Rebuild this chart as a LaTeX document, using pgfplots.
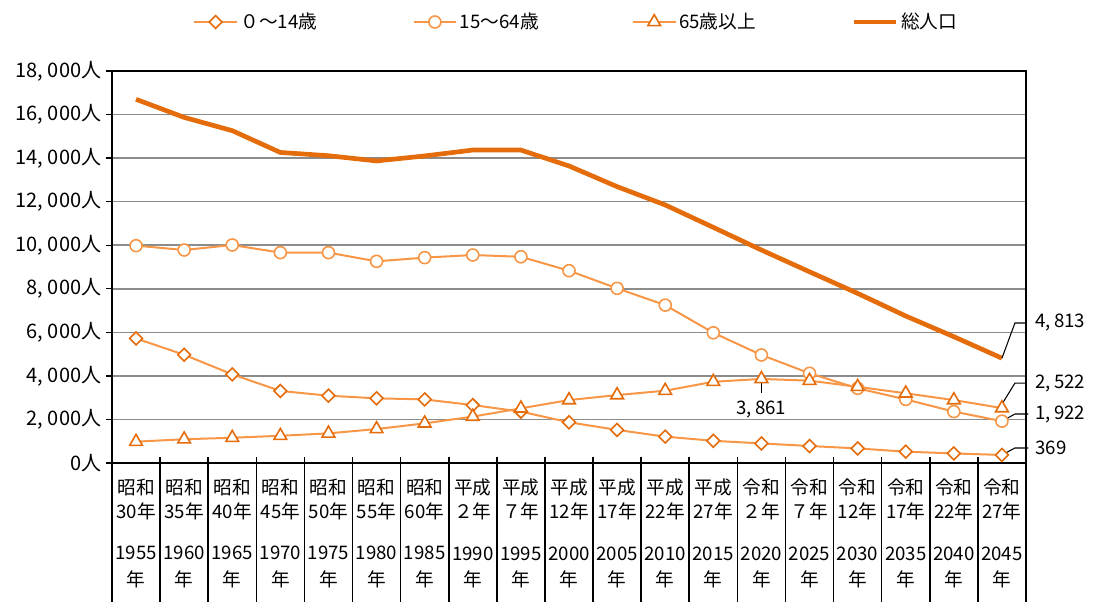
\documentclass[border=0pt]{standalone}
\usepackage{pgfplots}
\pgfplotsset{compat=1.18}
\usepackage{fontspec}
\setmainfont{Noto Sans CJK JP}

\definecolor{lo}{HTML}{F79646}
\definecolor{do}{HTML}{E46C0A}
\definecolor{gr}{HTML}{8C8C8C}

\begin{document}
\begin{tikzpicture}[font=\fontsize{14pt}{18pt}\selectfont]
\begin{axis}[
    at={(0,0)}, anchor=south west,
    scale only axis, width=685.5pt, height=294pt,
    xmin=-0.5, xmax=18.5, ymin=0, ymax=18000,
    axis line style={black, line width=1.2pt},
    scaled y ticks=false,
    ytick={0,2000,...,18000},
    yticklabels={0人,{2,\ 000人},{4,\ 000人},{6,\ 000人},{8,\ 000人},{10,\ 000人},{12,\ 000人},{14,\ 000人},{16,\ 000人},{18,\ 000人}},
    yticklabel style={font=\fontsize{15pt}{18pt}\selectfont},
    ytick pos=left, tick align=outside, major tick length=4.5pt,
    ytick style={black, line width=1pt},
    ymajorgrids, grid style={gr, line width=1.2pt},
    xtick={0,...,18}, xtick style={draw=none},
    xticklabels={
      {昭和\\30年\\[13pt]1955\\[2pt]年},{昭和\\35年\\[13pt]1960\\[2pt]年},{昭和\\40年\\[13pt]1965\\[2pt]年},
      {昭和\\45年\\[13pt]1970\\[2pt]年},{昭和\\50年\\[13pt]1975\\[2pt]年},{昭和\\55年\\[13pt]1980\\[2pt]年},
      {昭和\\60年\\[13pt]1985\\[2pt]年},{平成\\２年\\[13pt]1990\\[2pt]年},{平成\\７年\\[13pt]1995\\[2pt]年},
      {平成\\12年\\[13pt]2000\\[2pt]年},{平成\\17年\\[13pt]2005\\[2pt]年},{平成\\22年\\[13pt]2010\\[2pt]年},
      {平成\\27年\\[13pt]2015\\[2pt]年},{令和\\２年\\[13pt]2020\\[2pt]年},{令和\\７年\\[13pt]2025\\[2pt]年},
      {令和\\12年\\[13pt]2030\\[2pt]年},{令和\\17年\\[13pt]2035\\[2pt]年},{令和\\22年\\[13pt]2040\\[2pt]年},
      {令和\\27年\\[13pt]2045\\[2pt]年}},
    xticklabel style={align=center, yshift=-4pt},
    clip=false,
    legend columns=4,
    legend cell align=left,
    legend style={draw=none, fill=none, at={(0.0886,1.125)}, anchor=west, inner sep=0pt,
      /tikz/every even column/.append style={column sep=0pt}},
    legend image code/.code={\draw[mark repeat=2,mark phase=2,#1] plot coordinates {(0pt,0pt) (16pt,0pt) (32pt,0pt)};},
]
% 0-14
\addplot[lo, line width=1.5pt, mark=square*, mark size=3.4pt,
  mark options={rotate=45, fill=white, draw=do, line width=1.2pt}] coordinates {
  (0,5720) (1,4970) (2,4070) (3,3310) (4,3090) (5,2970) (6,2920) (7,2660) (8,2360) (9,1870)
  (10,1520) (11,1210) (12,1020) (13,900) (14,780) (15,670) (16,520) (17,440) (18,369)
};
\addlegendentry{\makebox[127pt][l]{０～14歳}}
% 15-64
\addplot[lo, line width=1.5pt, mark=*, mark size=4.5pt,
  mark options={fill=white, draw=lo, line width=1.2pt}] coordinates {
  (0,9980) (1,9780) (2,10010) (3,9660) (4,9660) (5,9260) (6,9430) (7,9550) (8,9470) (9,8830)
  (10,8020) (11,7250) (12,5980) (13,4960) (14,4120) (15,3430) (16,2920) (17,2360) (18,1922)
};
\addlegendentry{\makebox[127pt][l]{15～64歳}}
% 65+
\addplot[lo, line width=1.5pt, mark=triangle*, mark size=5.5pt,
  mark options={fill=white, draw=do, line width=1.2pt}] coordinates {
  (0,980) (1,1090) (2,1160) (3,1250) (4,1360) (5,1560) (6,1820) (7,2130) (8,2510) (9,2890)
  (10,3120) (11,3320) (12,3730) (13,3861) (14,3780) (15,3500) (16,3200) (17,2890) (18,2522)
};
\addlegendentry{\makebox[127pt][l]{65歳以上}}
% total
\addplot[do, line width=3.5pt, no markers] coordinates {
  (0,16700) (1,15870) (2,15260) (3,14260) (4,14110) (5,13870) (6,14100) (7,14370) (8,14370) (9,13640)
  (10,12690) (11,11850) (12,10820) (13,9780) (14,8780) (15,7790) (16,6750) (17,5800) (18,4813)
};
\addlegendentry{総人口}

% category separators
\pgfplotsinvokeforeach{-0.5,0.5,...,18.5}{
  \draw[black, line width=1.2pt] ([yshift=4.5pt]axis cs:#1,0) -- ([yshift=-110pt]axis cs:#1,0);
}

% data labels
\draw[black, line width=0.8pt] (axis cs:18,4813) -- (axis cs:18.27,6430) -- (axis cs:18.5,6430);
\node[anchor=west] at (axis cs:18.6,6430) {4,\,813};
\draw[black, line width=0.8pt] (axis cs:18,2700) -- (axis cs:18.27,3670) -- (axis cs:18.5,3670);
\node[anchor=west] at (axis cs:18.6,3670) {2,\,522};
\draw[black, line width=0.8pt] (axis cs:18,1922) -- (axis cs:18.27,2250) -- (axis cs:18.55,2250);
\node[anchor=west] at (axis cs:18.6,2250) {1,\,922};
\draw[black, line width=0.8pt] (axis cs:18,369) -- (axis cs:18.27,690) -- (axis cs:18.55,690);
\node[anchor=west] at (axis cs:18.6,690) {369};
\draw[black, line width=0.8pt] (axis cs:13,3861) -- (axis cs:13,3230);
\node at (axis cs:13,2440) {3,\,861};
\end{axis}
\pgfresetboundingbox
\useasboundingbox (-84pt,-103.5pt) rectangle (735.75pt,347.25pt);
\end{tikzpicture}
\end{document}
